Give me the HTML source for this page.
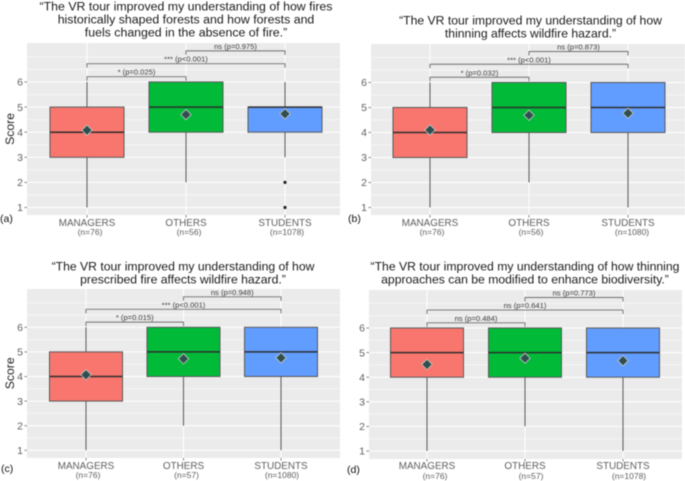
<!DOCTYPE html>
<html lang="en">
<head>
<meta charset="utf-8">
<title>VR tour survey box plots</title>
<style>
html,body{margin:0;padding:0;background:#fff;width:685px;height:481px;overflow:hidden}
svg{display:block;filter:blur(0.45px);font-family:"Liberation Sans",sans-serif}
</style>
</head>
<body>
<svg id="figure" xmlns="http://www.w3.org/2000/svg" width="685" height="481" viewBox="0 0 685 481"></svg>
<script>
// ---- Data ----
const categories = ["MANAGERS", "OTHERS", "STUDENTS"];
const yTicks = [1, 2, 3, 4, 5, 6];
const yMinorGrid = [1.5, 2.5, 3.5, 4.5, 5.5, 6.5, 7];
const sampleSizes = [[76, 56, 1078], [76, 56, 1080], [76, 57, 1080], [76, 57, 1078]];
const q1 = [[3, 4, 4], [3, 4, 4], [3, 4, 4], [4, 4, 4]];
const medians = [[4, 5, 5], [4, 5, 5], [4, 5, 5], [5, 5, 5]];
const q3 = [[5, 6, 5], [5, 6, 6], [5, 6, 6], [6, 6, 6]];
const whiskerLow = [[1, 2, 3], [1, 2, 1], [1, 2, 1], [1, 2, 1]];
const whiskerHigh = [[6, 6, 6], [6, 6, 6], [6, 6, 6], [6, 6, 6]];
const means = [[4.08, 4.70, 4.73], [4.10, 4.69, 4.77], [4.07, 4.72, 4.76], [4.52, 4.77, 4.67]];
const outliers = [[[], [], [2, 1]], [[], [], []], [[], [], []], [[], [], []]];
const bracketPairs = [[0, 1], [0, 2], [1, 2]];
const bracketLevels = [6.21, 6.73, 7.24];
const bracketLabels = [
  ["* (p=0.025)", "*** (p<0.001)", "ns (p=0.975)"],
  ["* (p=0.032)", "*** (p<0.001)", "ns (p=0.873)"],
  ["* (p=0.015)", "*** (p<0.001)", "ns (p=0.948)"],
  ["ns (p=0.484)", "ns (p=0.641)", "ns (p=0.773)"]
];
const titles = [
  ["\u201CThe VR tour improved my understanding of how fires", "historically shaped forests and how forests and", "fuels changed in the absence of fire.\u201D"],
  ["\u201CThe VR tour improved my understanding of how", "thinning affects wildfire hazard.\u201D"],
  ["\u201CThe VR tour improved my understanding of how", "prescribed fire affects wildfire hazard.\u201D"],
  ["\u201CThe VR tour improved my understanding of how thinning", "approaches can be modified to enhance biodiversity.\u201D"]
];
const panelTags = ["(a)", "(b)", "(c)", "(d)"];

// ---- Layout (panel frames, not data) ----
const frames = [
  {l:27, r:340, t:43, b:215, y1:207.5, y6:82, c0:87, c2:285, hw:37, titleX:186, titleY:10.5, titleSize:12.35, catY:226, nY:235, nDx:[3,3,2], tagX:0, tagY:222, score:true},
  {l:371, r:685, t:44, b:215, y1:207.5, y6:82.5, c0:430, c2:628, hw:37, titleX:530.5, titleY:24.5, titleSize:12.2, catY:226, nY:235, nDx:[2,2,4], tagX:348, tagY:222, score:false},
  {l:27, r:340, t:289, b:458, y1:450.3, y6:327.3, c0:86, c2:281, hw:36.5, titleX:183, titleY:270.5, titleSize:12.2, catY:469, nY:478, nDx:[2,3,1], tagX:1, tagY:472, score:true},
  {l:369, r:682, t:290, b:459, y1:451, y6:328, c0:427, c2:623, hw:36.5, titleX:525, titleY:270.5, titleSize:12.2, catY:469, nY:479, nDx:[8,6,6], tagX:347, tagY:473, score:false}
];
const fillColors = ["#F8766D", "#00BA38", "#619CFF"];
const categoryNames = ["managers", "others", "students"];

const NS = "http://www.w3.org/2000/svg";
const svg = document.getElementById("figure");
function make(tag, attrs, parent) {
  const el = document.createElementNS(NS, tag);
  for (const k in attrs) el.setAttribute(k, attrs[k]);
  (parent || svg).appendChild(el);
  return el;
}
function label(parent, x, y, str, size, fill, anchor) {
  const el = make("text", {x: x, y: y, "font-size": size, fill: fill, "text-anchor": anchor || "middle"}, parent);
  el.textContent = str;
  return el;
}

frames.forEach(function (f, p) {
  const yScale = function (v) { return f.y1 + (v - 1) * (f.y6 - f.y1) / 5; };
  const xScale = function (i) { return f.c0 + i * (f.c2 - f.c0) / 2; };

  const g = make("g", {});
  
  

  titles[p].forEach(function (line, i) {
    const t = label(g, f.titleX, f.titleY + i * 13, line, f.titleSize, "#1a1a1a");
    
    
  });

  const bg = make("rect", {x: f.l, y: f.t, width: f.r - f.l, height: f.b - f.t, fill: "#EBEBEB"}, g);
  
  

  yMinorGrid.forEach(function (v) {
    const ln = make("line", {x1: f.l, x2: f.r, y1: yScale(v), y2: yScale(v), stroke: "#fff", "stroke-width": 0.5}, g);
    
    
  });
  yTicks.forEach(function (v) {
    const ln = make("line", {x1: f.l, x2: f.r, y1: yScale(v), y2: yScale(v), stroke: "#fff", "stroke-width": 1}, g);
    
    
    const tk = make("line", {x1: f.l - 2.5, x2: f.l, y1: yScale(v), y2: yScale(v), stroke: "#666", "stroke-width": 0.8}, g);
    
    
    const tl = label(g, f.l - 4, yScale(v) + 3.7, String(v), 10.5, "#5e5e5e", "end");
    
    
  });

  categories.forEach(function (cat, i) {
    const x = xScale(i);
    const v = make("line", {x1: x, x2: x, y1: f.t, y2: f.b, stroke: "#fff", "stroke-width": 1}, g);
    
    
    const tk = make("line", {x1: x, x2: x, y1: f.b, y2: f.b + 2.5, stroke: "#666", "stroke-width": 0.8}, g);
    
    
    const cl = label(g, x, f.catY, cat, 9.9, "#5e5e5e");
    
    
    const nl = label(g, x + f.nDx[i], f.nY, "(n=" + sampleSizes[p][i] + ")", 8.5, "#5e5e5e");
    
    
  });

  categories.forEach(function (cat, i) {
    const x = xScale(i);
    const w = make("line", {x1: x, x2: x, y1: yScale(whiskerLow[p][i]), y2: yScale(whiskerHigh[p][i]), stroke: "#5a5a5a", "stroke-width": 1}, g);
    
    
    const box = make("rect", {x: x - f.hw, y: yScale(q3[p][i]), width: 2 * f.hw, height: yScale(q1[p][i]) - yScale(q3[p][i]), fill: fillColors[i], stroke: "#5a5a5a", "stroke-width": 1}, g);
    
    
    const med = make("line", {x1: x - f.hw, x2: x + f.hw, y1: yScale(medians[p][i]), y2: yScale(medians[p][i]), stroke: "#2e2e2e", "stroke-width": 1.5}, g);
    
    
    outliers[p][i].forEach(function (o) {
      const c = make("circle", {cx: x, cy: yScale(o), r: 1.6, fill: "#222"}, g);
      
      
    });
    const my = yScale(means[p][i]);
    const d = make("polygon", {points: [x, my - 5.2, x + 5.2, my, x, my + 5.2, x - 5.2, my].join(","), fill: "#2F4F4F", stroke: "#c8c8c8", "stroke-width": 0.8}, g);
    
    
  });

  bracketPairs.forEach(function (pair, i) {
    const a = xScale(pair[0]), b = xScale(pair[1]), y = yScale(bracketLevels[i]);
    const br = make("polyline", {points: [a, y + 4, a, y, b, y, b, y + 4].join(","), fill: "none", stroke: "#6e6e6e", "stroke-width": 0.9}, g);
    
    
    const bl = label(g, (a + b) / 2, y - 2, bracketLabels[p][i], 7.6, "#3c3c3c");
    
    
  });

  if (f.score) {
    const cy = yScale(4.13);
    const s = label(g, 14, cy, "Score", 12.2, "#222");
    s.setAttribute("transform", "rotate(-90 14 " + cy + ")");
    
    
  }

  const tag = label(g, f.tagX, f.tagY, panelTags[p], 10.5, "#111", "start");
  
  
});
</script>
</body>
</html>
